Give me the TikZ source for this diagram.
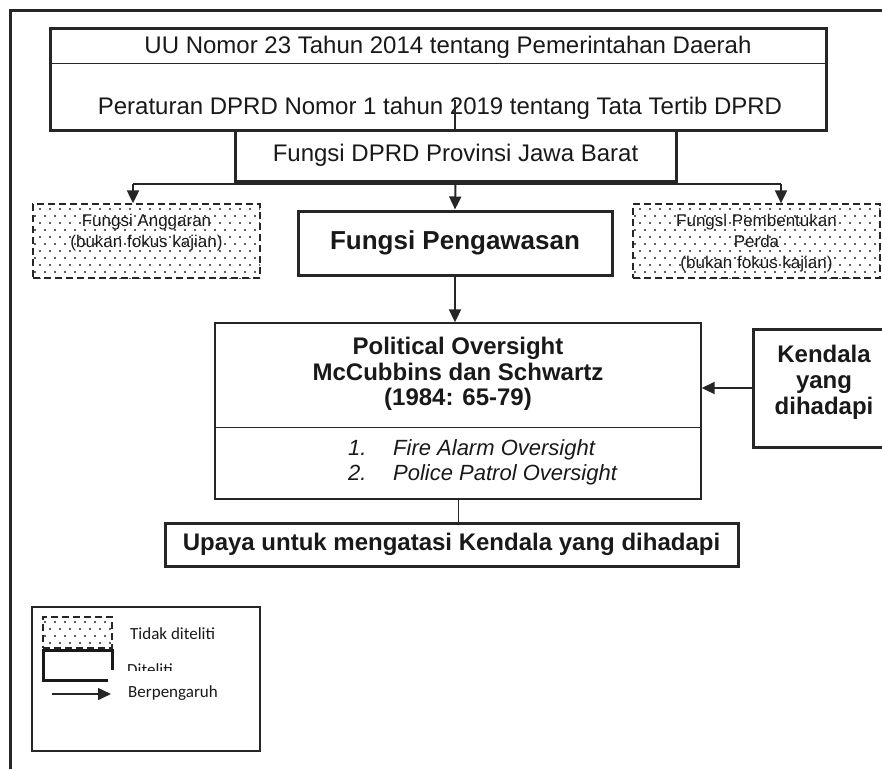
\documentclass[tikz,border=0pt]{standalone}
\usepackage{fontspec}
\setmainfont{Liberation Sans}
\newfontfamily\legendfont{Carlito}
\usepackage{tikz}
\usetikzlibrary{positioning, arrows.meta, patterns, calc}

%// dot fill for the boxes that are not studied
\pgfdeclarepatternformonly{sparse dots}{\pgfqpoint{-2pt}{-2pt}}{\pgfqpoint{12pt}{16pt}}{\pgfqpoint{10pt}{14pt}}%
{\pgfpathcircle{\pgfqpoint{0pt}{0pt}}{1.1pt}\pgfpathcircle{\pgfqpoint{5pt}{7pt}}{1.1pt}\pgfusepath{fill}}

\tikzset{
  mainbox/.style={draw=black!85, line width=3pt, inner sep=0pt},
  theorybox/.style={draw=black!85, line width=1.4pt, inner sep=0pt},
  skipbox/.style={draw=black!85, line width=1.3pt, dash pattern=on 7pt off 4pt, pattern=sparse dots, pattern color=black!85, inner sep=0pt},
  bigtext/.style={font=\fontsize{24}{25}\selectfont, align=center},
  boldtext/.style={font=\bfseries\fontsize{24}{26}\selectfont, align=center},
  smalltext/.style={font=\fontsize{17}{21}\selectfont, align=center},
  legendtext/.style={font=\legendfont\fontsize{17}{20}\selectfont, anchor=base west, inner sep=0pt},
  arr/.style={draw=black!85, line width=2pt, -{Triangle[length=13pt, width=12pt]}},
}

\begin{document}
\begin{tikzpicture}[x=1pt, y=-1pt, every node/.style={text=black!90}]

\clip (0,0) rectangle (882,769);

%// outer frame, only top and left edge show
\draw[black!85, line width=3pt] (10,769) -- (10,10) -- (882,10);

%// legal basis
\node (law) [mainbox, minimum width=776, minimum height=102] at (438,79) {};
\draw[black!85, line width=1pt] ($(law.north west)+(0,37)$) -- ($(law.north east)+(0,37)$);
\node (uu) [bigtext] at (448,47) {UU Nomor 23 Tahun 2014 tentang Pemerintahan Daerah};
\node (tatib) [bigtext] at (440,108) {Peraturan DPRD Nomor 1 tahun 2019 tentang Tata Tertib DPRD};

%// fungsi DPRD
\node (dprd) [mainbox, bigtext, minimum width=441, minimum height=51] at (455.5,155.5) {Fungsi DPRD Provinsi Jawa Barat};
\coordinate (lawfoot) at (455,100);
\draw[black!85, line width=2pt] (lawfoot) -- (lawfoot |- dprd.north);

%// the three functions
\node (anggaran) [skipbox, minimum width=227, minimum height=74] at (146.5,241) {};
\node (anggarantext) [smalltext] at (146.5,233) {Fungsi Anggaran\\(bukan fokus kajian)};
\node (pembentukan) [skipbox, minimum width=247, minimum height=74] at (756.5,241) {};
\node (pembentukantext) [smalltext] at (756.5,243) {Fungsi Pembentukan\\Perda\\(bukan fokus kajian)};
\node (awas) [mainbox, font=\bfseries\fontsize{26}{28}\selectfont, minimum width=314, minimum height=64] at (455,243) {Fungsi Pengawasan};

\coordinate (forkL) at (133,184);
\coordinate (forkR) at (781,184);
\draw[black!85, line width=2pt] (forkL) -- (forkR);
\draw[arr] (forkL) -- (forkL |- anggaran.north);
\draw[arr] (forkR) -- (forkR |- pembentukan.north);
\draw[arr] (dprd.south) -- (awas.north);

%// political oversight
\node (politik) [theorybox, minimum width=486, minimum height=176] at (458,411) {};
\coordinate (split) at (458,427);
\draw[black!85, line width=1pt] (politik.west |- split) -- (politik.east |- split);
\node (politikhead) [boldtext, font=\bfseries\fontsize{24}{25.5}\selectfont] at (458,374) {Political Oversight\\McCubbins dan Schwartz\\(1984: 65-79)};
\node (politiklist) [anchor=west, align=left, inner sep=0pt, font=\itshape\fontsize{22}{25}\selectfont] at (348,462.5)
  {\makebox[45pt][l]{1.}Fire Alarm Oversight\\\makebox[45pt][l]{2.}Police Patrol Oversight};
\draw[arr] (awas.south) -- (awas.south |- politik.north);

%// kendala
\node (kendala) [mainbox, minimum width=142, minimum height=118] at (824,388) {};
\node (kendalatext) [boldtext] at (824,382) {Kendala\\yang\\dihadapi};
\draw[arr] (kendala.west) -- (kendala.west -| politik.east);

%// upaya
\node (upaya) [mainbox, boldtext, minimum width=573, minimum height=43] at (451.5,544.5) {Upaya untuk mengatasi Kendala yang dihadapi};
\draw[black!85, line width=1pt] (politik.south) -- (politik.south |- upaya.north);

%// legend
\node (legend) [draw=black!85, line width=1.3pt, minimum width=228, minimum height=144, inner sep=0pt] at (146,679) {};
\node (skipsample) [skipbox, minimum width=69, minimum height=31] at (77.5,632.5) {};
\draw[black!90, line width=3pt] (112,670) -- (112,650) -- (43,650) -- (43,680) -- (108,680);
\node (skiplabel) [legendtext] at (130,639) {Tidak diteliti};
\begin{scope}
  \clip (120,600) rectangle (250,670);
  \node (studiedlabel) [legendtext] at (127,675) {Diteliti};
\end{scope}
\node (effectlabel) [legendtext, anchor=west] at (128,693) {Berpengaruh};
\coordinate (effectstart) at (52,694);
\draw[arr, line width=1.5pt, shorten >=17pt] (effectstart) -- (effectstart -| effectlabel.west);

\end{tikzpicture}
\end{document}
